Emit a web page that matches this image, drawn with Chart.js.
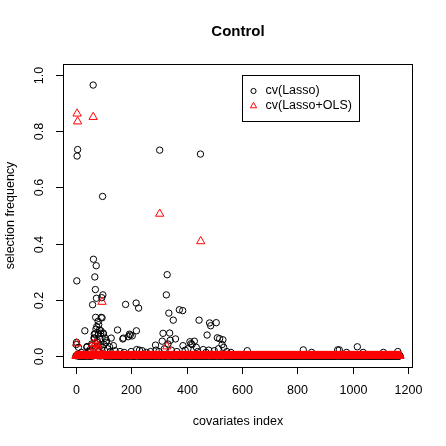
<!DOCTYPE html>
<html>
<head>
<meta charset="utf-8">
<script src="https://cdn.jsdelivr.net/npm/chart.js"></script>
<style>
  body { margin: 0; background: #fff; }
  canvas { display: block; }
</style>
</head>
<body>
<canvas id="ctrlChart" width="446" height="446"></canvas>
<script>
// number of covariates (x runs 1..nCovariates), every covariate not listed below sits at 0
const nCovariates = 1170;

// cv(Lasso): covariates with a nonzero selection frequency
const lassoIndex = [4, 5, 7, 63, 303, 450, 97, 64, 74, 69, 330, 71, 75, 98, 94, 61, 327, 180, 218, 227,
  336, 374, 386, 352, 445, 483, 487, 507, 474, 511, 519, 531, 72, 92, 81, 33, 76, 86, 90, 70,
  100, 66, 87, 106, 77, 110, 122, 59, 40, 136, 142, 10, 96, 151, 170, 190, 194, 197, 204, 172,
  219, 315, 339, 312, 341, 360, 288, 333, 387, 412, 416, 420, 435, 220, 230, 240, 428, 460, 480, 500,
  528, 534, 619, 821, 945, 951, 1016, 1162, 851, 977, 1037, 1110, 3, 2, 20, 45, 52, 80, 84, 88,
  102, 115, 125, 160, 175, 200, 255, 270, 290, 300, 320, 345, 365, 395, 405, 440, 470, 515, 545, 560,
  95, 83, 73, 91, 82, 67, 68, 99, 78, 111, 128, 58, 41];
const lassoFreq = [0.267, 0.712, 0.735, 0.965, 0.733, 0.719, 0.568, 0.344, 0.321, 0.281, 0.289, 0.236, 0.205, 0.217, 0.207, 0.182, 0.217, 0.183, 0.188, 0.170,
  0.152, 0.164, 0.161, 0.127, 0.127, 0.117, 0.107, 0.118, 0.074, 0.064, 0.061, 0.057, 0.137, 0.137, 0.123, 0.089, 0.104, 0.092, 0.080, 0.078,
  0.078, 0.063, 0.060, 0.063, 0.048, 0.048, 0.032, 0.036, 0.030, 0.036, 0.018, 0.030, 0.030, 0.092, 0.060, 0.068, 0.077, 0.074, 0.071, 0.063,
  0.089, 0.080, 0.081, 0.052, 0.055, 0.060, 0.038, 0.042, 0.036, 0.050, 0.043, 0.040, 0.030, 0.022, 0.020, 0.018, 0.052, 0.022, 0.020, 0.018,
  0.040, 0.030, 0.018, 0.021, 0.021, 0.021, 0.032, 0.015, 0.012, 0.012, 0.012, 0.012, 0.048, 0.040, 0.012, 0.015, 0.022, 0.025, 0.018, 0.035,
  0.040, 0.025, 0.015, 0.015, 0.012, 0.015, 0.012, 0.015, 0.020, 0.015, 0.025, 0.020, 0.015, 0.020, 0.025, 0.015, 0.012, 0.025, 0.015, 0.012,
  0.135, 0.111, 0.095, 0.089, 0.077, 0.077, 0.063, 0.081, 0.054, 0.054, 0.063, 0.042, 0.033];

// cv(Lasso+OLS): covariates with a nonzero selection frequency
const olsIndex = [5, 7, 63, 303, 451, 95, 4, 61, 71, 80, 329, 75, 85, 66];
const olsFreq = [0.863, 0.835, 0.851, 0.506, 0.408, 0.192, 0.044, 0.042, 0.045, 0.036, 0.033, 0.025, 0.020, 0.030];

const xTicks = [0, 200, 400, 600, 800, 1000, 1200];
const yTicks = [0, 0.2, 0.4, 0.6, 0.8, 1.0];

function buildSeries(idx, freq) {
    const pts = [];
    for (let i = 1; i <= nCovariates; i++) {
        const k = idx.indexOf(i);
        pts.push({ x: i, y: k >= 0 ? freq[k] : 0 });
    }
    return pts;
}

const FONT = '"Liberation Sans", Arial, Helvetica, sans-serif';

// R style frame: box, outward ticks, rotated y labels, titles and legend
const rFrame = {
    id: 'rFrame',
    afterDraw(chart) {
        const { ctx, chartArea: a, scales: { x, y } } = chart;
        ctx.save();
        ctx.strokeStyle = '#000';
        ctx.fillStyle = '#000';
        ctx.lineWidth = 1;
        ctx.strokeRect(a.left + 0.5, a.top + 0.5, a.right - a.left - 1, a.bottom - a.top);

        ctx.font = '12.5px ' + FONT;
        ctx.textAlign = 'center';
        ctx.textBaseline = 'middle';
        xTicks.forEach(v => {
            const px = Math.round(x.getPixelForValue(v)) + 0.5;
            ctx.beginPath();
            ctx.moveTo(px, a.bottom);
            ctx.lineTo(px, a.bottom + 7);
            ctx.stroke();
            ctx.fillText(String(v), px, 391);
        });
        yTicks.forEach(v => {
            const py = Math.round(y.getPixelForValue(v)) + 0.5;
            ctx.beginPath();
            ctx.moveTo(a.left - 7, py);
            ctx.lineTo(a.left, py);
            ctx.stroke();
            ctx.save();
            ctx.translate(40, py);
            ctx.rotate(-Math.PI / 2);
            ctx.fillText(v.toFixed(1), 0, 0);
            ctx.restore();
        });

        ctx.fillText('covariates index', (a.left + a.right) / 2, 422);
        ctx.save();
        ctx.translate(11, (a.top + a.bottom) / 2);
        ctx.rotate(-Math.PI / 2);
        ctx.fillText('selection frequency', 0, 0);
        ctx.restore();

        ctx.font = 'bold 15px ' + FONT;
        ctx.fillText('Control', (a.left + a.right) / 2, 32);

        // legend
        ctx.strokeRect(242.5, 75.5, 117, 46);
        ctx.beginPath();
        ctx.arc(253.5, 91, 2.6, 0, Math.PI * 2);
        ctx.stroke();
        ctx.strokeStyle = '#ff0000';
        const r = 3.6, cx = 253.5, cy = 106;
        ctx.beginPath();
        ctx.moveTo(cx, cy - r);
        ctx.lineTo(cx + r * 0.866, cy + r / 2);
        ctx.lineTo(cx - r * 0.866, cy + r / 2);
        ctx.closePath();
        ctx.stroke();
        ctx.font = '12.5px ' + FONT;
        ctx.textAlign = 'left';
        ctx.fillText('cv(Lasso)', 265.5, 91);
        ctx.fillText('cv(Lasso+OLS)', 265.5, 105.5);
        ctx.restore();
    }
};

new Chart(document.getElementById('ctrlChart').getContext('2d'), {
    type: 'scatter',
    data: {
        datasets: [
            {
                label: 'cv(Lasso)',
                data: buildSeries(lassoIndex, lassoFreq),
                pointStyle: 'circle',
                pointRadius: 3.2,
                borderColor: '#000000',
                backgroundColor: 'rgba(0,0,0,0)',
                borderWidth: 1,
                order: 1
            },
            {
                label: 'cv(Lasso+OLS)',
                data: buildSeries(olsIndex, olsFreq),
                pointStyle: 'triangle',
                pointRadius: 4.8,
                borderColor: '#ff0000',
                backgroundColor: 'rgba(0,0,0,0)',
                borderWidth: 1,
                order: 0
            }
        ]
    },
    options: {
        responsive: false,
        animation: false,
        devicePixelRatio: 1,
        events: [],
        layout: { padding: { left: 63, right: 33, top: 64, bottom: 79 } },
        scales: {
            x: { type: 'linear', min: -45.8, max: 1216.8, display: false },
            y: { type: 'linear', min: -0.04, max: 1.04, display: false }
        },
        plugins: {
            legend: { display: false },
            tooltip: { enabled: false },
            title: { display: false }
        }
    },
    plugins: [rFrame]
});
</script>
</body>
</html>
